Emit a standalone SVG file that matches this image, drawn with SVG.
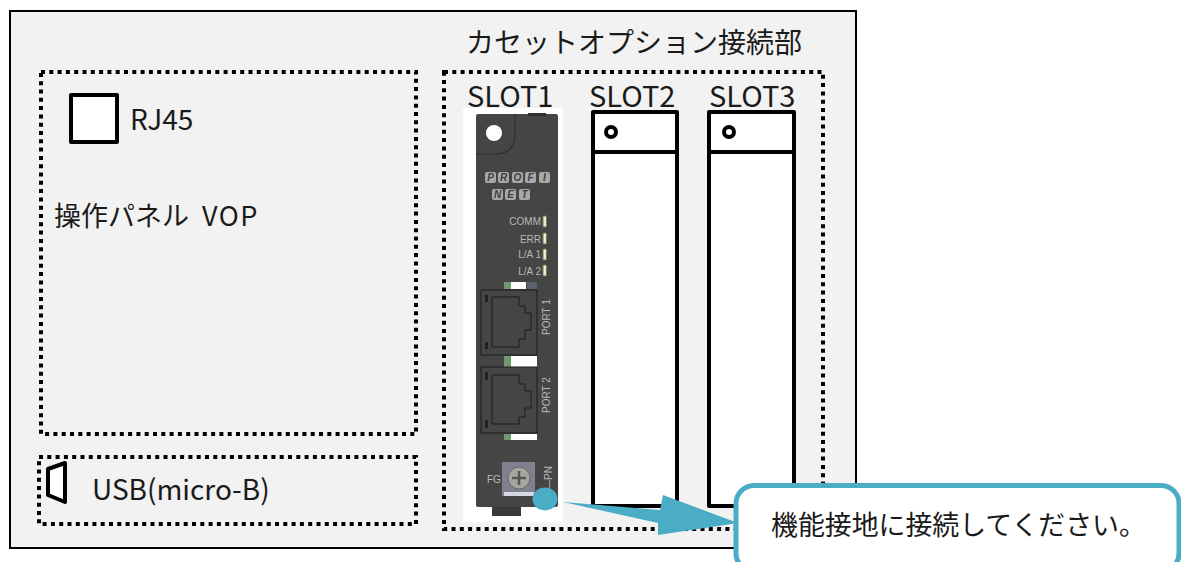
<svg xmlns="http://www.w3.org/2000/svg" width="1181" height="562" viewBox="0 0 1181 562">
<style>
.t{font-family:"Noto Sans CJK JP","Noto Sans",sans-serif;fill:#1a1a1a}
.dot{fill:none;stroke:#000;stroke-width:4;stroke-dasharray:4 4.3}
.box{fill:#fff;stroke:#000;stroke-width:4;stroke-linejoin:round}
.ln{fill:none;stroke:#1c1c1c;stroke-width:1}
.lab{font-family:"Liberation Sans Narrow","Liberation Sans",sans-serif;fill:#b8b8b8;font-size:10px}
.tile{fill:#a8a8a8}
.tl{font-family:"Liberation Sans",sans-serif;font-weight:bold;font-style:italic;font-size:10px;fill:#3e3e3e;text-anchor:middle}
.led{fill:#e8ecd0;stroke:#6d7d50;stroke-width:1}
</style>
<rect width="1181" height="562" fill="#fff"/>
<g id="enclosure"><rect x="10" y="11" width="846" height="537" fill="#f2f2f2" stroke="#000" stroke-width="2"/></g>
<g id="title"><text class="t" x="466" y="53" font-size="28">カセットオプション接続部</text></g>
<g id="vop"><rect class="dot" x="41" y="72" width="375" height="362"/>
<rect class="box" x="71" y="95" width="46" height="47"/>
<text class="t" x="130" y="130" font-size="28">RJ45</text>
<text class="t" x="54" y="226" font-size="27">操作パネル <tspan x="202" y="226" letter-spacing="1.5">VOP</tspan></text></g>
<g id="usb"><rect class="dot" x="39" y="457" width="377" height="67"/>
<path class="box" d="M65 463L48 469V495L65 502Z"/>
<text class="t" x="92" y="500" font-size="28">USB(micro-B)</text></g>
<g id="slots"><rect class="dot" x="444" y="72" width="379" height="457"/></g>
<g id="slot1"><text class="t" x="467" y="107" font-size="29">SLOT1</text>
<rect x="463" y="108" width="100" height="414" fill="#fff"/>
<rect x="492" y="505" width="29" height="11" fill="#3a3a3a"/>
<rect x="476" y="114" width="82" height="393" rx="2" fill="#454545"/>
<rect x="528" y="113" width="18" height="3" fill="#303030"/>
<path d="M515 114V134Q515 154 495 154H476" fill="none" stroke="#303030" stroke-width="1.2"/>
<circle cx="494" cy="133" r="8" fill="#fff"/>
<g>
<rect class="tile" x="485" y="172" width="11" height="11" rx="2"/><rect class="tile" x="498" y="172" width="11" height="11" rx="2"/><rect class="tile" x="512" y="172" width="11" height="11" rx="2"/><rect class="tile" x="525" y="172" width="11" height="11" rx="2"/><rect class="tile" x="539" y="172" width="11" height="11" rx="2"/>
<rect class="tile" x="492" y="189" width="11" height="11" rx="2"/><rect class="tile" x="505" y="189" width="11" height="11" rx="2"/><rect class="tile" x="519" y="189" width="11" height="11" rx="2"/>
<text class="tl" x="490.500" y="181">P</text><text class="tl" x="503.500" y="181">R</text><text class="tl" x="517.500" y="181">O</text><text class="tl" x="530.500" y="181">F</text><text class="tl" x="544.500" y="181">I</text>
<text class="tl" x="497.500" y="198">N</text><text class="tl" x="510.500" y="198">E</text><text class="tl" x="524.500" y="198">T</text>
</g>
<g text-anchor="end"><text class="lab" x="541" y="225">COMM</text><text class="lab" x="541" y="243">ERR</text><text class="lab" x="541" y="258">L/A 1</text><text class="lab" x="541" y="275">L/A 2</text></g>
<rect class="led" x="543" y="216" width="3.500" height="11" rx="1"/><rect class="led" x="543" y="233" width="3.500" height="11" rx="1"/><rect class="led" x="543" y="249" width="3.500" height="11" rx="1"/><rect class="led" x="543" y="265" width="3.500" height="11" rx="1"/>
<rect x="504" y="282" width="22" height="7" fill="#fff"/><rect x="504" y="282" width="7" height="7" fill="#6f9a6f"/>
<rect x="527" y="282" width="10" height="7" fill="#5a6070"/>
<rect class="ln" x="481" y="290" width="56" height="65"/>
<path class="ln" d="M492 297H519V306H525V313H531V330H525V339H519V347H492Z"/>
<rect x="485" y="295" width="3" height="7" fill="#222"/><rect x="485" y="342" width="3" height="7" fill="#222"/>
<rect x="504" y="356" width="33" height="11" fill="#fff"/><rect x="504" y="356" width="7" height="11" fill="#6f9a6f"/>
<rect class="ln" x="481" y="367" width="56" height="66"/>
<path class="ln" d="M492 375H519V384H525V391H531V408H525V417H519V424H492Z"/>
<rect x="485" y="372" width="3" height="8" fill="#222"/><rect x="485" y="420" width="3" height="8" fill="#222"/>
<rect x="504" y="434" width="33" height="6" fill="#fff"/><rect x="504" y="434" width="7" height="6" fill="#6f9a6f"/>
<text class="lab" transform="translate(550 335) rotate(-90)" font-size="12">PORT 1</text>
<text class="lab" transform="translate(550 413) rotate(-90)" font-size="12">PORT 2</text>
<text class="lab" x="487" y="483">FG</text>
<text class="lab" transform="translate(552 490) rotate(-90)" font-size="12">—PN</text>
<rect x="502" y="462" width="33" height="34" fill="#7f8090"/>
<rect x="504" y="492" width="30" height="4" fill="#d8d8e4"/>
<circle cx="519" cy="478" r="11" fill="#a6a6a0" stroke="#666"/>
<path d="M512 478H526M519 471V485" stroke="#555" stroke-width="2.500"/>
</g>
<g id="slot2"><text class="t" x="589" y="107" font-size="29">SLOT2</text>
<rect class="box" x="593" y="112" width="84" height="394"/><path d="M593 152H677" stroke="#000" stroke-width="4"/><circle cx="611" cy="132" r="5" fill="#fff" stroke="#000" stroke-width="4"/></g>
<g id="slot3"><text class="t" x="709" y="107" font-size="29">SLOT3</text>
<rect class="box" x="709" y="112" width="85" height="394"/><path d="M709 152H794" stroke="#000" stroke-width="4"/><circle cx="729" cy="132" r="5" fill="#fff" stroke="#000" stroke-width="4"/></g>
<g id="connectors"><path d="M563 502L660 510L663 495L738 523L658 535L658 523Z" fill="#4bacc6"/></g>
<g id="callout"><ellipse cx="545" cy="499" rx="12.500" ry="11.500" fill="#4bacc6"/>
<rect x="736" y="485.500" width="443" height="86" rx="18" fill="#fff" stroke="#4bacc6" stroke-width="5"/>
<text class="t" x="771" y="535" font-size="26.900">機能接地に接続してください。</text></g>
</svg>
